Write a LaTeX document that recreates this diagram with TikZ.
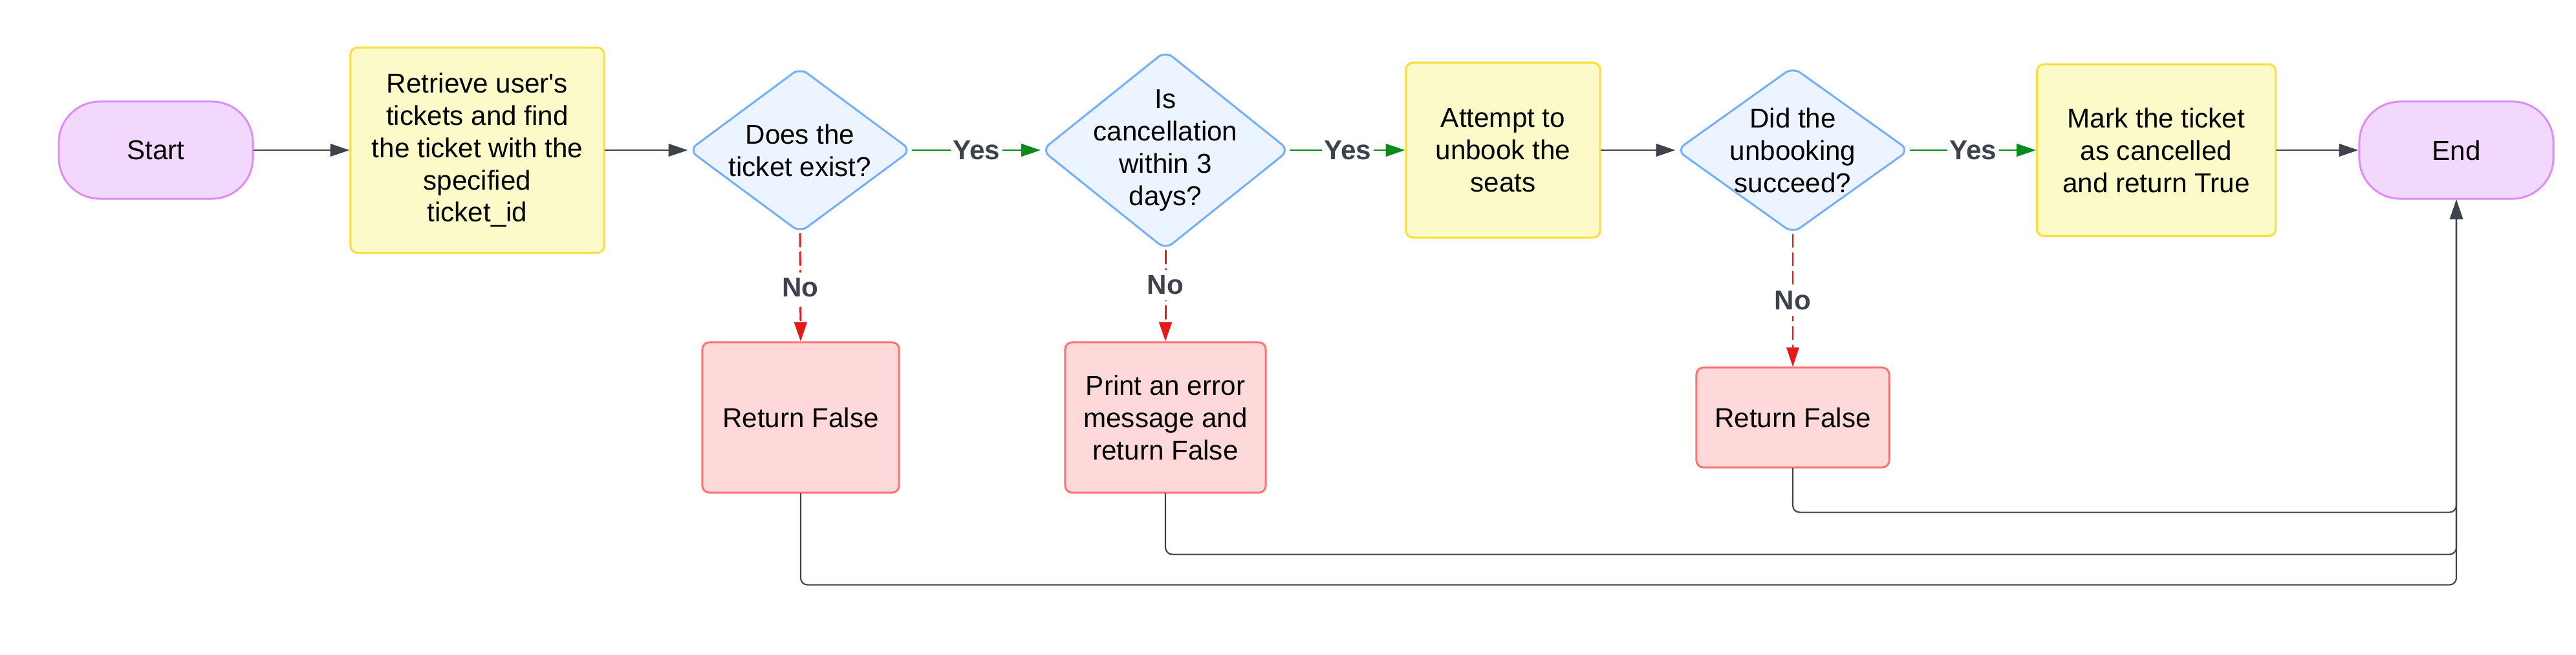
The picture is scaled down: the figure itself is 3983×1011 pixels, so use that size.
\documentclass[tikz,border=0pt]{standalone}
\usepackage{fontspec}
\setmainfont{Liberation Sans}
\usetikzlibrary{arrows.meta,shapes.geometric}

\definecolor{termfill}{HTML}{F3D8FE}
\definecolor{termline}{HTML}{DF8CF6}
\definecolor{procfill}{HTML}{FCFAC8}
\definecolor{procline}{HTML}{FFDC38}
\definecolor{decfill}{HTML}{ECF4FF}
\definecolor{decline}{HTML}{72B0FF}
\definecolor{errfill}{HTML}{FFD8DA}
\definecolor{errline}{HTML}{FF7373}
\definecolor{flowgray}{HTML}{3D424B}
\definecolor{yesgreen}{HTML}{0A8A1A}
\definecolor{nored}{HTML}{E41A1A}

\begin{document}
\begin{tikzpicture}[x=0.01cm, y=-0.01cm, line cap=round, line join=round,
  font=\fontsize{12}{14.2}\selectfont,
  terminal/.style={draw=termline, fill=termfill, line width=0.85pt,
    rounded corners=18pt, minimum width=3cm, minimum height=1.5cm},
  process/.style={draw=procline, fill=procfill, line width=0.85pt,
    rounded corners=3pt, align=center},
  decision/.style={diamond, draw=decline, fill=decfill, line width=0.85pt,
    rounded corners=4pt, inner sep=0pt},
  dtext/.style={align=center, inner sep=0pt},
  errbox/.style={draw=errline, fill=errfill, line width=0.85pt,
    rounded corners=3pt, align=center},
  flow/.style={draw=flowgray, line width=0.6pt,
    -{Triangle[length=8.5pt,width=5.6pt]}},
  yes/.style={draw=yesgreen, line width=0.6pt,
    -{Triangle[length=8.5pt,width=5.6pt]}},
  no/.style={draw=nored, line width=0.85pt, dash pattern=on 5.7pt off 2.4pt,
    -{Triangle[length=8.5pt,width=5.6pt]}},
  yeslabel/.style={fill=white, inner sep=1pt, text=flowgray, font=\fontsize{12}{14.2}\selectfont\bfseries},
  nolabel/.style={fill=white, inner sep=2.5pt, text=flowgray, font=\fontsize{12}{14.2}\selectfont\bfseries}
]

% ---------------------------
% Canvas (pixel units of the picture)
% ---------------------------
\useasboundingbox (0,0) rectangle (3983,1011);

% ---------------------------
% Main row
% ---------------------------
\node[terminal] (start) at (241,232) {Start};
\node[process, minimum width=3.92cm, minimum height=3.17cm] (retrieve) at (738,232)
  {Retrieve user\textquotesingle s\\tickets and find\\the ticket with the\\specified\\ticket\_id};

\node[decision, minimum width=3.44cm, minimum height=2.55cm] (d1) at (1237,232) {};
\node[dtext] (d1t) at (d1) {Does the\\ticket exist?};

\node[decision, minimum width=3.83cm, minimum height=3.07cm] (d2) at (1802,232) {};
\node[dtext] (d2t) at (d2) {Is\\cancellation\\within 3\\days?};

\node[process, minimum width=3cm, minimum height=2.7cm] (attempt) at (2324,232)
  {Attempt to\\unbook the\\seats};

\node[decision, minimum width=3.6cm, minimum height=2.57cm] (d3) at (2772,232) {};
\node[dtext] (d3t) at (d3) {Did the\\unbooking\\succeed?};

\node[process, minimum width=3.69cm, minimum height=2.65cm] (mark) at (3334,232)
  {Mark the ticket\\as cancelled\\and return True};
\node[terminal] (end) at (3798,232) {End};

% ---------------------------
% Failure branches
% ---------------------------
\node[errbox, minimum width=3.04cm, minimum height=2.32cm] (rf1) at (1238,645) {Return False};
\node[errbox, minimum width=3.1cm, minimum height=2.32cm] (print) at (1802,645)
  {Print an error\\message and\\return False};
\node[errbox, minimum width=2.98cm, minimum height=1.54cm] (rf3) at (2772,645) {Return False};

% ---------------------------
% Connectors
% ---------------------------
\draw[flow] (start) -- (retrieve);
\draw[flow] (retrieve) -- (d1);
\draw[yes] (d1) -- node[yeslabel] (y1) {Yes} (d2);
\draw[yes] (d2) -- node[yeslabel] (y2) {Yes} (attempt);
\draw[flow] (attempt) -- (d3);
\draw[yes] (d3) -- node[yeslabel] (y3) {Yes} (mark);
\draw[flow] (mark) -- (end);

\draw[no] (d1.south) -- node[nolabel] (n1) {No} (rf1.north);
\draw[no] (d2.south) -- node[nolabel, pos=0.38] (n2) {No} (print.north);
\draw[no, line width=0.35pt] (d3.south) -- node[nolabel] (n3) {No} (rf3.north);

% returns into End
\draw[flow, rounded corners=3pt] (rf3.south) -- ++(0,68) -| (end.south);
\draw[flow, rounded corners=3pt] (print.south) -- ++(0,94) -| (end.south);
\draw[flow, rounded corners=3pt] (rf1.south) -- ++(0,141) -| (end.south);

\end{tikzpicture}
\end{document}
